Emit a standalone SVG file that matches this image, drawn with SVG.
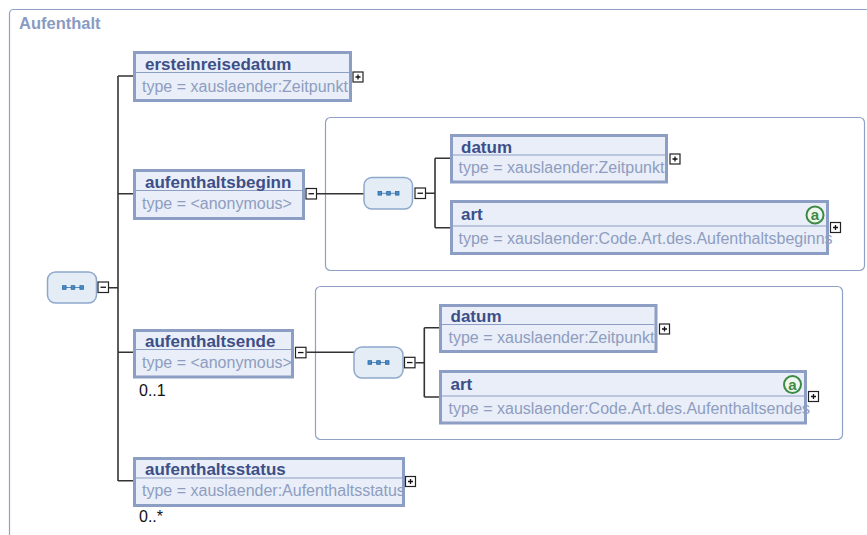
<svg xmlns="http://www.w3.org/2000/svg" width="867" height="535" viewBox="0 0 867 535">
<style>
.frame{fill:#fff;stroke:#8fa1c7;stroke-width:1.2}
.box{fill:#e9eef8;stroke:#8d9ec5;stroke-width:3}
.div{stroke:#8d9ec5;stroke-width:1}
.t{font-family:"Liberation Sans",Arial,sans-serif;font-weight:bold;font-size:17px;fill:#3d4f88}
.ty{font-family:"Liberation Sans",Arial,sans-serif;font-size:16px;fill:#8e9dc0}
.m{font-family:"Liberation Sans",Arial,sans-serif;font-size:16px;fill:#111}
.btn{fill:#fff;stroke:#222;stroke-width:1.2}
.sgn{stroke:#111;stroke-width:1.3}
.seq{fill:#e4ecf6;stroke:#8ea8cc;stroke-width:1.5}
.con{fill:none;stroke:#333;stroke-width:1.6}
.sq{fill:#4a8cc6;stroke:#2c6aa4;stroke-width:0.8}
.icl{stroke:#5a8cbc;stroke-width:1}
.att{fill:#eef6ee;stroke:#3d8a45;stroke-width:2}
.atxt{font-family:"Liberation Sans",Arial,sans-serif;font-weight:bold;font-size:15px;fill:#3d8a45}
</style>
<defs>
<g id="plus"><rect class="btn" x="0.5" y="0.5" width="10" height="10"/><path class="sgn" d="M3 5.5H8M5.5 3V8"/></g>
<g id="minus"><rect class="btn" x="0.5" y="0.5" width="10.5" height="10.5"/><path class="sgn" d="M3 5.75H8.5"/></g>
<g id="seqicon"><path class="icl" d="M-9 0H9"/><rect class="sq" x="-10.5" y="-1.8" width="3.6" height="3.6"/><rect class="sq" x="-1.8" y="-1.8" width="3.6" height="3.6"/><rect class="sq" x="6.9" y="-1.8" width="3.6" height="3.6"/></g>
</defs>

<g id="outer">
<rect class="frame" x="9.5" y="9.5" width="900" height="600" rx="4"/>
<text x="19" y="29" font-family="Liberation Sans,Arial,sans-serif" font-weight="bold" font-size="16.5" fill="#8a9bc2">Aufenthalt</text>
</g>

<g id="frame1"><rect class="frame" x="325.5" y="117.5" width="539" height="153" rx="5"/></g>
<g id="frame2"><rect class="frame" x="315.5" y="286.5" width="527" height="153" rx="5"/></g>

<g id="connectors">
<path class="con" d="M109 287.7H118M118 76V481M118 76H133M118 193.7H133M118 352.3H133M118 480.7H133"/>
<path class="con" d="M316.5 193.7H364M426 193.3H435M435 158.3V227.7M435 158.3H450M435 227.7H450"/>
<path class="con" d="M306.5 352.3H354M415.5 362.7H424.3M424.3 327.7V397M424.3 327.7H439M424.3 397H439"/>
</g>

<g id="seq-main">
<rect class="seq" x="47.5" y="272" width="49" height="31" rx="8"/>
<use href="#seqicon" x="73" y="287.5"/>
<use href="#minus" x="97.5" y="281.5"/>
</g>

<g id="ersteinreisedatum">
<rect class="box" x="134.5" y="52.5" width="216" height="48"/>
<path class="div" d="M136 72.5H349"/>
<text class="t" x="145" y="70">ersteinreisedatum</text>
<text class="ty" x="142" y="92">type = xauslaender:Zeitpunkt</text>
<use href="#plus" x="352.5" y="71.5"/>
</g>

<g id="aufenthaltsbeginn">
<rect class="box" x="134.5" y="170.5" width="169" height="48"/>
<path class="div" d="M136 190.5H302"/>
<text class="t" x="145" y="187.5">aufenthaltsbeginn</text>
<text class="ty" x="142" y="208.5">type = &lt;anonymous&gt;</text>
<use href="#minus" x="305.5" y="188"/>
</g>

<g id="seq-beginn">
<rect class="seq" x="364" y="177.5" width="48.5" height="31.5" rx="8"/>
<use href="#seqicon" x="388.5" y="193.3"/>
<use href="#minus" x="414.5" y="187.5"/>
</g>

<g id="beginn-datum">
<rect class="box" x="451.5" y="135.5" width="215" height="46.5"/>
<path class="div" d="M453 155H665"/>
<text class="t" x="461" y="152.5">datum</text>
<text class="ty" x="458.5" y="172.5">type = xauslaender:Zeitpunkt</text>
<use href="#plus" x="669.5" y="153.5"/>
</g>

<g id="beginn-art">
<rect class="box" x="451.5" y="201.5" width="376" height="52"/>
<path class="div" d="M453 226H826"/>
<text class="t" x="461" y="219.5">art</text>
<circle class="att" cx="815" cy="215" r="8.5"/>
<text class="atxt" x="815" y="220" text-anchor="middle">a</text>
<text class="ty" x="458.5" y="243.5">type = xauslaender:Code.Art.des.Aufenthaltsbeginns</text>
<use href="#plus" x="830" y="222"/>
</g>

<g id="aufenthaltsende">
<rect class="box" x="134.5" y="330.5" width="158" height="46.5"/>
<path class="div" d="M136 349.5H291"/>
<text class="t" x="145" y="346.5">aufenthaltsende</text>
<text class="ty" x="142" y="367.5">type = &lt;anonymous&gt;</text>
<use href="#minus" x="295" y="346.8"/>
<text class="m" x="139" y="395.5">0..1</text>
</g>

<g id="seq-ende">
<rect class="seq" x="354" y="347" width="49" height="31" rx="8"/>
<use href="#seqicon" x="378.5" y="362.5"/>
<use href="#minus" x="404" y="356.8"/>
</g>

<g id="ende-datum">
<rect class="box" x="440.5" y="305.5" width="215.5" height="46"/>
<path class="div" d="M442 324.5H654"/>
<text class="t" x="450.5" y="321.5">datum</text>
<text class="ty" x="448.5" y="342.5">type = xauslaender:Zeitpunkt</text>
<use href="#plus" x="659" y="323.5"/>
</g>

<g id="ende-art">
<rect class="box" x="440.5" y="371.5" width="365" height="51.5"/>
<path class="div" d="M442 396H804"/>
<text class="t" x="450.5" y="389.5">art</text>
<circle class="att" cx="792.5" cy="384.5" r="8.5"/>
<text class="atxt" x="792.5" y="389.5" text-anchor="middle">a</text>
<text class="ty" x="448.5" y="413.5">type = xauslaender:Code.Art.des.Aufenthaltsendes</text>
<use href="#plus" x="808" y="391"/>
</g>

<g id="aufenthaltsstatus">
<rect class="box" x="134.5" y="458.5" width="269" height="47"/>
<path class="div" d="M136 478H402"/>
<text class="t" x="145" y="474.5">aufenthaltsstatus</text>
<text class="ty" x="142" y="496">type = xauslaender:Aufenthaltsstatus</text>
<use href="#plus" x="405" y="476"/>
<text class="m" x="139" y="521.5">0..*</text>
</g>
</svg>
